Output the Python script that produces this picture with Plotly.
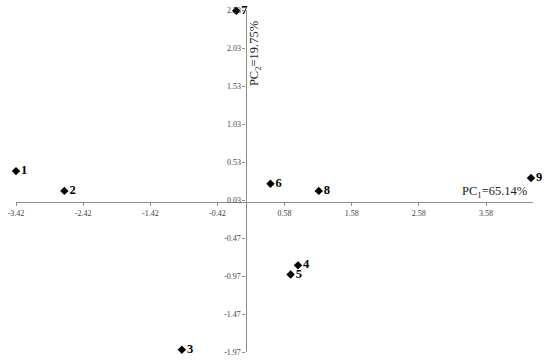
import plotly.graph_objects as go

# Data
sample_labels = ["1", "2", "3", "4", "5", "6", "7", "8", "9"]
pc1_scores = [-3.42, -2.70, -0.95, 0.78, 0.67, 0.37, -0.14, 1.09, 4.25]
pc2_scores = [0.41, 0.15, -1.94, -0.83, -0.95, 0.245, 2.52, 0.15, 0.32]

x_tickvals = [-3.42, -2.42, -1.42, -0.42, 0.58, 1.58, 2.58, 3.58]
x_ticktext = ["-3.42", "-2.42", "-1.42", "-0.42", "0.58", "1.58", "2.58", "3.58"]
y_tickvals = [-1.97, -1.47, -0.97, -0.47, 0.03, 0.53, 1.03, 1.53, 2.03, 2.53]
y_ticktext = ["-1.97", "-1.47", "-0.97", "-0.47", "0.03", "0.53", "1.03", "1.53", "2.03", "2.53"]

x_title = "PC<sub>1</sub>=65.14%"
y_title = "PC<sub>2</sub>=19.75%"

x_range = [-3.42, 4.28]
y_range = [-1.97, 2.53]

font_family = "Liberation Serif"
axis_color = "#8c8c8c"
tick_font = dict(family=font_family, size=8, color="#404040")

fig = go.Figure()
fig.add_trace(go.Scatter(
    x=pc1_scores, y=pc2_scores, mode="markers+text",
    text=sample_labels, textposition="middle right",
    textfont=dict(family=font_family, size=12.5, color="black", weight="bold"),
    marker=dict(symbol="diamond", size=6.5, color="black"),
    cliponaxis=False, showlegend=False,
))

xpos = (0 - y_range[0]) / (y_range[1] - y_range[0])
ypos = (0 - x_range[0]) / (x_range[1] - x_range[0])

fig.update_layout(
    width=550, height=362,
    margin=dict(l=16, r=16.6, t=10, b=10, autoexpand=False),
    paper_bgcolor="white", plot_bgcolor="white",
    font=dict(family=font_family),
    xaxis=dict(range=x_range, tickvals=x_tickvals, ticktext=x_ticktext,
               anchor="free", position=xpos, showline=True, linecolor=axis_color,
               linewidth=1.3, ticks="outside", ticklen=3, tickcolor=axis_color,
               showgrid=False, zeroline=False, tickfont=tick_font, automargin=False,
               ticklabeloverflow="allow"),
    yaxis=dict(range=y_range, tickvals=y_tickvals, ticktext=y_ticktext,
               anchor="free", position=ypos, showline=True, linecolor=axis_color,
               linewidth=1.3, ticks="outside", ticklen=3, tickcolor=axis_color,
               showgrid=False, zeroline=False, tickfont=tick_font, automargin=False,
               ticklabeloverflow="allow"),
    annotations=[
        dict(x=4.22, y=0.0, xref="x", yref="y", text=x_title, showarrow=False,
             xanchor="right", yanchor="bottom",
             font=dict(family=font_family, size=12.5, color="#222222")),
        dict(x=0.14, y=1.95, xref="x", yref="y", text=y_title, showarrow=False,
             textangle=-90, xanchor="center", yanchor="middle",
             font=dict(family=font_family, size=12.5, color="#222222")),
    ],
)

fig.write_html("out.html", config={"displayModeBar": False},
               post_script="document.body.style.margin='0';")
